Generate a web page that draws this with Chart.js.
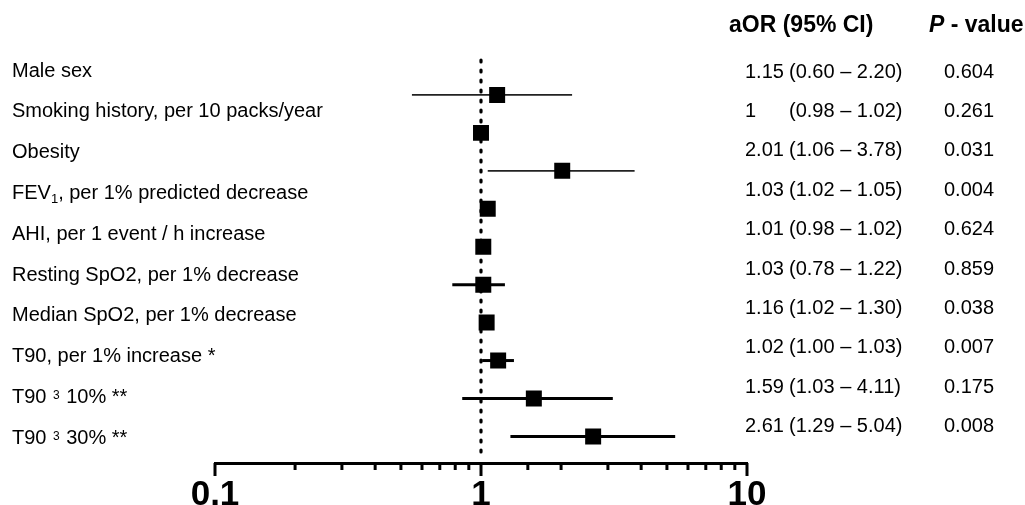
<!DOCTYPE html>
<html><head><meta charset="utf-8">
<script src="https://cdn.jsdelivr.net/npm/chart.js@4.4.1/dist/chart.umd.min.js"></script>
<style>html,body{margin:0;padding:0;background:#fff;}#wrap{width:1025px;height:505px;position:relative;}</style>
</head><body><div id="wrap"><canvas id="c" width="1025" height="505"></canvas></div>
<script>
// ---- data ----
const categories = [
  "Male sex",
  "Smoking history, per 10 packs/year",
  "Obesity",
  "FEV₁, per 1% predicted decrease",
  "AHI, per 1 event / h increase",
  "Resting SpO2, per 1% decrease",
  "Median SpO2, per 1% decrease",
  "T90, per 1% increase *",
  "T90 ³ 10% **",
  "T90 ³ 30% **"
];
const orText = ["1.15","1","2.01","1.03","1.01","1.03","1.16","1.02","1.59","2.61"];
const ciText = ["(0.60 – 2.20)","(0.98 – 1.02)","(1.06 – 3.78)","(1.02 – 1.05)","(0.98 – 1.02)",
                "(0.78 – 1.22)","(1.02 – 1.30)","(1.00 – 1.03)","(1.03 – 4.11)","(1.29 – 5.04)"];
const pText = ["0.604","0.261","0.031","0.004","0.624","0.859","0.038","0.007","0.175","0.008"];
// plotted positions
const orPlot = [1.15, 1.00, 2.02, 1.06, 1.02, 1.02, 1.05, 1.16, 1.58, 2.64];
const ciLow  = [0.55, 0.98, 1.06, 1.04, 0.99, 0.78, 1.03, 1.01, 0.85, 1.29];
const ciHigh = [2.20, 1.02, 3.78, 1.07, 1.03, 1.23, 1.07, 1.33, 3.13, 5.37];
const xTickLabels = [0.1, 1, 10];
const headerOR = "aOR (95% CI)";
const headerP = ["P", " - value"];

const FONT = '"Liberation Sans", Arial, sans-serif';

function drawRich(ctx, str, x, y, size) {
  let run = "";
  const flush = () => {
    if (!run) return;
    ctx.font = size + "px " + FONT;
    ctx.fillText(run, x, y);
    x += ctx.measureText(run).width;
    run = "";
  };
  for (const ch of str) {
    if (ch === "₁") {
      flush();
      const s = Math.round(size * 0.65);
      ctx.font = s + "px " + FONT;
      ctx.fillText("1", x, y + size * 0.3);
      x += ctx.measureText("1").width;
    } else if (ch === "³") {
      flush();
      const s = Math.round(size * 0.62);
      ctx.font = s + "px " + FONT;
      ctx.fillText("3", x + 1, y - size * 0.08);
      x += ctx.measureText("3").width + 2;
    } else run += ch;
  }
  flush();
}

const forestPlugin = {
  id: "forest",
  beforeDatasetsDraw(chart) {
    const ctx = chart.ctx, xs = chart.scales.x, ys = chart.scales.y;
    ctx.save();
    // reference line at OR = 1
    const x1 = xs.getPixelForValue(1);
    ctx.strokeStyle = "#000";
    ctx.lineWidth = 3.2;
    ctx.lineCap = "round";
    ctx.setLineDash([2, 8]);
    ctx.beginPath();
    ctx.moveTo(x1, 60);
    ctx.lineTo(x1, chart.chartArea.bottom - 3);
    ctx.stroke();
    ctx.setLineDash([]);
    // CI lines
    ctx.lineCap = "butt";
    for (let i = 0; i < orPlot.length; i++) {
      const y = ys.getPixelForValue(i);
      ctx.strokeStyle = i < 3 ? "#222" : "#000";
      ctx.lineWidth = i < 3 ? 1.8 : 3;
      ctx.beginPath();
      ctx.moveTo(xs.getPixelForValue(ciLow[i]), y);
      ctx.lineTo(xs.getPixelForValue(ciHigh[i]), y);
      ctx.stroke();
    }
    ctx.restore();
  },
  afterDraw(chart) {
    const ctx = chart.ctx, xs = chart.scales.x;
    const top = chart.chartArea.bottom;
    ctx.save();
    // axis ticks (major longer)
    ctx.strokeStyle = "#000";
    ctx.lineWidth = 3;
    for (const t of xs.ticks) {
      const lv = Math.log10(t.value);
      const major = Math.abs(lv - Math.round(lv)) < 1e-6;
      const x = xs.getPixelForValue(t.value);
      ctx.beginPath();
      ctx.moveTo(x, top);
      ctx.lineTo(x, top + (major ? 13 : 7));
      ctx.stroke();
    }
    // texts
    ctx.fillStyle = "#000";
    ctx.textBaseline = "middle";
    ctx.textAlign = "left";
    for (let i = 0; i < categories.length; i++) {
      drawRich(ctx, categories[i], 12, 71 + 40.8 * i, 20);
      const yc = 72 + 39.4 * i;
      ctx.font = "20px " + FONT;
      ctx.fillText(orText[i], 745, yc);
      ctx.fillText(ciText[i], 789, yc);
      ctx.fillText(pText[i], 944, yc);
    }
    ctx.font = "bold 23px " + FONT;
    ctx.fillText(headerOR, 729, 26);
    ctx.font = "italic bold 23px " + FONT;
    ctx.fillText(headerP[0], 929, 26);
    const w = ctx.measureText(headerP[0]).width;
    ctx.font = "bold 23px " + FONT;
    ctx.fillText(headerP[1], 929 + w, 26);
    ctx.restore();
  }
};

new Chart(document.getElementById("c"), {
  type: "scatter",
  data: {
    datasets: [{
      data: orPlot.map((v, i) => ({ x: v, y: i })),
      pointStyle: "rect",
      radius: 11.3,
      hoverRadius: 11.3,
      backgroundColor: "#000",
      borderWidth: 0
    }]
  },
  options: {
    responsive: false,
    animation: false,
    events: [],
    layout: { padding: { left: 215, right: 278, top: 0, bottom: 0 } },
    plugins: { legend: { display: false }, tooltip: { enabled: false } },
    scales: {
      x: {
        type: "logarithmic",
        min: 0.1, max: 10,
        afterFit: (s) => { s.height = 42; },
        grid: { display: false, drawTicks: false, tickLength: 0 },
        border: { display: true, width: 3, color: "#000" },
        ticks: {
          autoSkip: false, maxRotation: 0, minRotation: 0, padding: 11,
          color: "#000",
          font: { family: FONT, size: 35, weight: "bold" },
          callback: (v) => xTickLabels.some(t => Math.abs(t - v) < 1e-9) ? String(v) : ""
        }
      },
      y: {
        type: "linear", reverse: true, display: false,
        min: -2.204, max: 9.70
      }
    }
  },
  plugins: [forestPlugin]
});
</script>
</body></html>
